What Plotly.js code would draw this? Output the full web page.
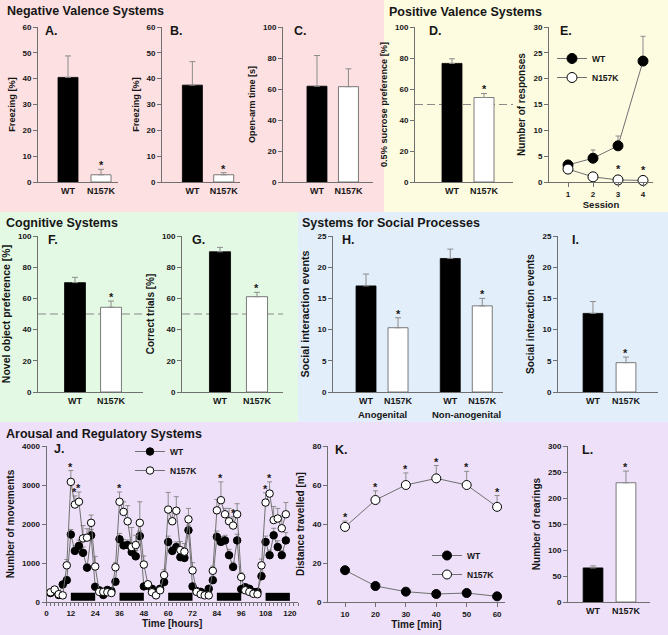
<!DOCTYPE html>
<html><head><meta charset="utf-8">
<script src="https://cdn.plot.ly/plotly-3.0.1.min.js"></script>
<style>html,body{margin:0;padding:0;background:#fff}#chart{width:668px;height:635px}</style>
</head><body><div id="chart"></div>
<script>
// ---------------- DATA ----------------
const genotypes = ['WT', 'N157K'];
// A. contextual freezing
const freezeCtxMean = [40.5, 2.8];
const freezeCtxErr = [8.3, 2.1];
const freezeCtxSig = [false, true];
// B. cued freezing
const freezeCueMean = [37.5, 2.8];
const freezeCueErr = [9.1, 0.8];
const freezeCueSig = [false, true];
// C. open-arm time
const openArmMean = [61.8, 61.5];
const openArmErr = [19.8, 11.5];
const openArmSig = [false, false];
// D. sucrose preference
const sucroseMean = [76.5, 54.5];
const sucroseErr = [3.0, 2.6];
const sucroseSig = [false, true];
const chanceLevel = 50;
// E. responses per session
const sessions = [1, 2, 3, 4];
const respWT = [3.3, 4.6, 7.0, 23.4];
const respWTErr = [0.4, 1.6, 1.9, 4.8];
const respMut = [2.5, 1.0, 0.4, 0.3];
const respMutErr = [0.2, 0.2, 0.1, 0.1];
const respMutSig = [false, false, true, true];
// F. novel object preference
const novelObjMean = [70.1, 54.3];
const novelObjErr = [3.4, 4.0];
const novelObjSig = [false, true];
// G. correct trials
const correctMean = [89.9, 61.1];
const correctErr = [2.8, 2.8];
const correctSig = [false, true];
// H. social interaction by type
const socialTypes = ['Anogenital', 'Non-anogenital'];
const socialWT = [17.0, 21.4];
const socialWTErr = [1.9, 1.5];
const socialMut = [10.3, 13.8];
const socialMutErr = [1.6, 1.2];
const socialMutSig = [true, true];
// I. social interaction total
const socialTotMean = [12.6, 4.7];
const socialTotErr = [1.9, 0.9];
const socialTotSig = [false, true];
// J. home-cage movements
const hours = [2,4,6,8,10,12,14,16,18,20,22,24,26,28,30,32,34,36,38,40,42,44,46,48,
  50,52,54,56,58,60,62,64,66,68,70,72,74,76,78,80,82,84,86,88,90,92,94,96,
  98,100,102,104,106,108,110,112,114,116,118];
const moveWT = [230,300,180,450,560,1730,1310,1440,1260,880,1710,390,
  300,180,310,280,520,1610,1450,1460,1280,1170,1690,400,
  420,340,230,340,510,1540,1310,1410,1150,1130,1840,400,
  280,260,210,340,560,1670,1540,1580,1200,900,1580,330,
  380,340,260,260,660,1540,1200,1710,1410,1200,1580];
const moveWTErr = [30,30,30,60,80,130,130,150,150,100,150,60,
  30,30,30,30,80,150,150,130,200,150,130,60,
  40,30,30,30,80,150,120,130,150,140,130,60,
  30,30,30,30,80,150,140,130,150,120,160,60,
  30,30,30,30,100,150,130,180,160,120,200];
const moveMut = [250,320,200,170,940,3080,2500,2570,1630,1650,2030,910,
  260,260,250,230,890,2570,2310,2070,1410,1460,2030,960,
  455,250,170,300,690,2370,2070,2340,1330,1290,2120,810,
  260,200,170,170,800,2350,2610,2250,2070,1960,2250,640,
  300,260,210,200,940,2550,2780,2100,2140,1890,2250];
const moveMutErr = [40,50,30,30,150,290,220,250,330,230,200,260,
  40,40,40,40,120,250,260,400,500,250,540,220,
  60,40,40,60,140,440,300,360,220,210,280,200,
  50,40,40,40,120,280,470,150,330,230,270,110,
  50,40,40,40,160,250,300,350,260,310,300];
const moveSigHours = [12, 14, 16, 36, 86, 92, 108, 110];
const darkPeriods = [[12, 24], [36, 48], [60, 72], [84, 96], [108, 120]];
const darkBarSpan = [30, 235];
// K. open-field distance
const minutes = [10, 20, 30, 40, 50, 60];
const distWT = [16.3, 8.2, 5.3, 4.1, 4.6, 2.9];
const distWTErr = [0.5, 0.4, 0.3, 0.3, 0.3, 0.3];
const distMut = [38.5, 52.3, 60.0, 63.4, 60.0, 48.8];
const distMutErr = [3.0, 4.7, 6.2, 6.6, 7.0, 5.8];
const distMutSig = [true, true, true, true, true, true];
// L. rearings
const rearMean = [65.5, 229.3];
const rearErr = [4.0, 22.5];
const rearSig = [false, true];

// ---------------- STYLE / LAYOUT ----------------
const W = 668, H = 635;
const px = v => v / W, py = v => 1 - v / H;
const FONT = 'Liberation Sans, Arial, sans-serif';
const TXT = '#161616', AXIS = '#707070', ERR = '#8c8c8c', LINE = '#707070';
const barFill = ['#000000', '#ffffff'];
const barEdge = ['#000000', '#5a5a5a'];

const traces = [], annotations = [], shapes = [];
const layout = {
  width: W, height: H, margin: {l: 0, r: 0, t: 0, b: 0},
  paper_bgcolor: '#ffffff', plot_bgcolor: 'rgba(0,0,0,0)',
  font: {family: FONT, color: TXT},
  barmode: 'overlay', showlegend: true,
  annotations, shapes
};

function f(size, extra) { return Object.assign({family: FONT, size: size, color: TXT, weight: 'bold'}, extra || {}); }

function axisBase(extra) {
  return Object.assign({
    showline: true, linecolor: AXIS, linewidth: 1, ticks: 'outside', ticklen: 4,
    tickcolor: AXIS, tickwidth: 1, showgrid: false, zeroline: false, fixedrange: true,
    tickfont: f(8), tickangle: 0
  }, extra);
}
const ax = n => (n === 1 ? '' : String(n));

function panel(n, xpx, ypx, xopts, yopts) {
  layout['xaxis' + ax(n)] = axisBase(Object.assign({
    domain: [px(xpx[0]), px(xpx[1])], anchor: 'y' + ax(n)}, xopts));
  layout['yaxis' + ax(n)] = axisBase(Object.assign({
    domain: [py(ypx[1]), py(ypx[0])], anchor: 'x' + ax(n)}, yopts));
}
function ytitle(t, s) { return {text: t, font: f(s || 10), standoff: 5}; }
function xtitle(t, s) { return {text: t, font: f(s || 10), standoff: 3}; }

function catAxis(range) {
  return {type: 'category', range: range, tickfont: f(9), ticks: ''};
}

function star(n, x, y) {
  annotations.push({xref: 'x' + ax(n), yref: 'y' + ax(n), x: x, y: y, text: '*',
    showarrow: false, yanchor: 'bottom', yshift: -4, font: f(11)});
}

function barPanel(n, means, errs, sig, width) {
  traces.push({
    type: 'bar', x: genotypes, y: means, width: width,
    xaxis: 'x' + ax(n), yaxis: 'y' + ax(n),
    marker: {color: barFill, line: {color: barEdge, width: 0.8}},
    error_y: {type: 'data', symmetric: false, array: errs, arrayminus: errs.map(() => 0),
      color: ERR, thickness: 1, width: 3},
    showlegend: false, hoverinfo: 'skip'
  });
  sig.forEach((s, i) => { if (s) star(n, genotypes[i], means[i] + errs[i]); });
}

function lineTrace(n, x, y, err, name, fill, size, legend) {
  traces.push({
    type: 'scatter', mode: 'lines+markers', x: x, y: y, name: name,
    xaxis: 'x' + ax(n), yaxis: 'y' + ax(n), legend: legend,
    line: {color: LINE, width: 1},
    marker: {color: fill, size: size, line: {color: '#000', width: 1}},
    error_y: {type: 'data', symmetric: false, array: err, arrayminus: err.map(() => 0),
      color: ERR, thickness: 1, width: 2.5},
    hoverinfo: 'skip', cliponaxis: false
  });
}

// backgrounds
const bands = [
  [0, 384, 0, 212, '#fde0e1'],
  [384, 668, 0, 212, '#fdfce1'],
  [0, 298, 212, 422, '#e4f9e4'],
  [298, 668, 212, 422, '#e2eefa'],
  [0, 668, 422, 635, '#eee0f8']
];
bands.forEach(b => shapes.push({type: 'rect', xref: 'paper', yref: 'paper', layer: 'below',
  x0: px(b[0]), x1: px(b[1]), y0: py(b[3]), y1: py(b[2]), fillcolor: b[4], line: {width: 0}}));

// section titles
[['Negative Valence Systems', 5, 11], ['Positive Valence Systems', 387, 12],
 ['Cognitive Systems', 4, 223], ['Systems for Social Processes', 300, 223],
 ['Arousal and Regulatory Systems', 4, 434]].forEach(t => annotations.push({
  xref: 'paper', yref: 'paper', x: px(t[1]), y: py(t[2]), xanchor: 'left', yanchor: 'middle',
  text: t[0], showarrow: false, font: f(12.5)}));

// panel letters
[['A.', 43, 31], ['B.', 168, 31], ['C.', 292, 31], ['D.', 427, 31], ['E.', 558, 31],
 ['F.', 46, 240], ['G.', 190, 240], ['H.', 340, 240], ['I.', 570, 240],
 ['J.', 52, 449], ['K.', 333, 450], ['L.', 580, 450]].forEach(t => annotations.push({
  xref: 'paper', yref: 'paper', x: px(t[1]), y: py(t[2]), xanchor: 'left', yanchor: 'middle',
  text: t[0], showarrow: false, font: f(12.5)}));

const R1 = [27, 182], R2 = [236, 392], R3 = [446, 602];

// A
panel(1, [38, 118], R1, catAxis([-0.909, 1.515]), {range: [0, 60], dtick: 10, title: ytitle('Freezing [%]', 9.2)});
barPanel(1, freezeCtxMean, freezeCtxErr, freezeCtxSig, 0.606);
// B
panel(2, [162, 240], R1, catAxis([-0.97, 1.52]), {range: [0, 60], dtick: 10, title: ytitle('Freezing [%]', 9.2)});
barPanel(2, freezeCueMean, freezeCueErr, freezeCueSig, 0.64);
// C
panel(3, [283, 373], R1, catAxis([-1.08, 1.78]), {range: [0, 100], dtick: 20, title: ytitle('Open-arm time [s]', 9)});
barPanel(3, openArmMean, openArmErr, openArmSig, 0.635);
// D
panel(4, [415, 513], R1, catAxis([-1.156, 1.906]), {range: [0, 100], dtick: 20, title: ytitle('0.5% sucrose preference [%]', 9.2)});
barPanel(4, sucroseMean, sucroseErr, sucroseSig, 0.625);
// E
panel(5, [549, 653], R1, {range: [0.24, 4.4], tickvals: sessions, title: xtitle('Session', 9.5)},
  {range: [0, 30], dtick: 5, title: ytitle('Number of responses')});
lineTrace(5, sessions, respWT, respWTErr, 'WT', '#000', 10, 'legend');
lineTrace(5, sessions, respMut, respMutErr, 'N157K', '#fff', 10, 'legend');
respMutSig.forEach((s, i) => { if (s) star(5, sessions[i], respMut[i] + respMutErr[i] + 1.2); });
// F
panel(6, [38, 143], R2, catAxis([-1.028, 1.889]), {range: [0, 100], dtick: 20, title: ytitle('Novel object preference [%]', 10.5)});
barPanel(6, novelObjMean, novelObjErr, novelObjSig, 0.58);
// G
panel(7, [182, 283], R2, catAxis([-1.027, 1.703]), {range: [0, 100], dtick: 20, title: ytitle('Correct trials [%]')});
barPanel(7, correctMean, correctErr, correctSig, 0.57);
// chance lines
[4, 6, 7].forEach(n => shapes.push({type: 'line', xref: 'x' + ax(n) + ' domain', x0: 0, x1: 1,
  yref: 'y' + ax(n), y0: chanceLevel, y1: chanceLevel, layer: 'below',
  line: {color: '#8a8a8a', width: 1, dash: '8px,4px'}}));
// H (grouped bars on numeric axis)
const hHalf = 0.19, hWidth = 0.237;
const hPosWT = socialTypes.map((_, i) => i - hHalf);
const hPosMut = socialTypes.map((_, i) => i + hHalf);
panel(8, [333, 503], R2, {range: [-0.582, 1.436], tickvals: hPosWT.concat(hPosMut),
  ticktext: genotypes.map(() => genotypes[0]).concat(genotypes.map(() => genotypes[1])),
  tickfont: f(9), ticks: ''},
  {range: [0, 25], dtick: 5, title: ytitle('Social interaction events', 10.8)});
[[hPosWT, socialWT, socialWTErr, 0], [hPosMut, socialMut, socialMutErr, 1]].forEach(g => traces.push({
  type: 'bar', x: g[0], y: g[1], width: hWidth, xaxis: 'x8', yaxis: 'y8',
  marker: {color: barFill[g[3]], line: {color: barEdge[g[3]], width: 0.8}},
  error_y: {type: 'data', symmetric: false, array: g[2], arrayminus: g[2].map(() => 0),
    color: ERR, thickness: 1, width: 3},
  showlegend: false, hoverinfo: 'skip'}));
socialMutSig.forEach((s, i) => { if (s) star(8, hPosMut[i], socialMut[i] + socialMutErr[i]); });
socialTypes.forEach((t, i) => annotations.push({xref: 'x8', yref: 'paper', x: i, y: py(415),
  yanchor: 'middle', text: t, showarrow: false, font: f(9.5)}));
// I
panel(9, [558, 658], R2, catAxis([-1.06, 1.97]), {range: [0, 25], dtick: 5, title: ytitle('Social interaction events', 10.2)});
barPanel(9, socialTotMean, socialTotErr, socialTotSig, 0.6);
// J
panel(10, [46.5, 298], R3, {range: [0, 124], tick0: 0, dtick: 12, ticklen: 3,
  minor: {dtick: 2, ticks: 'outside', ticklen: 3, tickcolor: AXIS},
  title: xtitle('Time [hours]')},
  {range: [0, 4000], dtick: 1000, title: ytitle('Number of movements')});
darkPeriods.forEach(d => shapes.push({type: 'rect', xref: 'x10', yref: 'y10',
  x0: d[0], x1: d[1], y0: darkBarSpan[0], y1: darkBarSpan[1], fillcolor: '#000', line: {width: 0}, layer: 'below'}));
lineTrace(10, hours, moveWT, moveWTErr, 'WT', '#000', 7.5, 'legend2');
lineTrace(10, hours, moveMut, moveMutErr, 'N157K', '#fff', 7.5, 'legend2');
moveSigHours.forEach(h => { const i = hours.indexOf(h); star(10, h, moveMut[i] + moveMutErr[i]); });
// K
panel(11, [328, 505], R3, {range: [4.4, 62.6], tickvals: minutes, title: xtitle('Time [min]')},
  {range: [0, 80], dtick: 20, title: ytitle('Distance travelled [m]')});
lineTrace(11, minutes, distWT, distWTErr, 'WT', '#000', 9, 'legend3');
lineTrace(11, minutes, distMut, distMutErr, 'N157K', '#fff', 9, 'legend3');
distMutSig.forEach((s, i) => { if (s) star(11, minutes[i], distMut[i] + distMutErr[i]); });
// L
panel(12, [568, 650], R3, catAxis([-0.76, 1.73]), {range: [0, 300], dtick: 50, title: ytitle('Number of rearings')});
barPanel(12, rearMean, rearErr, rearSig, 0.6);

// legends
const legBase = {xanchor: 'left', yanchor: 'middle', bgcolor: 'rgba(0,0,0,0)', borderwidth: 0,
  font: f(8.5), itemwidth: 30, tracegroupgap: 0, xref: 'paper', yref: 'paper'};
layout.legend = Object.assign({x: px(552), y: py(68)}, legBase);
layout.legend2 = Object.assign({x: px(130), y: py(461)}, legBase);
layout.legend3 = Object.assign({x: px(427), y: py(565)}, legBase);

Plotly.newPlot('chart', traces, layout, {displayModeBar: false, staticPlot: true});
</script></body></html>
